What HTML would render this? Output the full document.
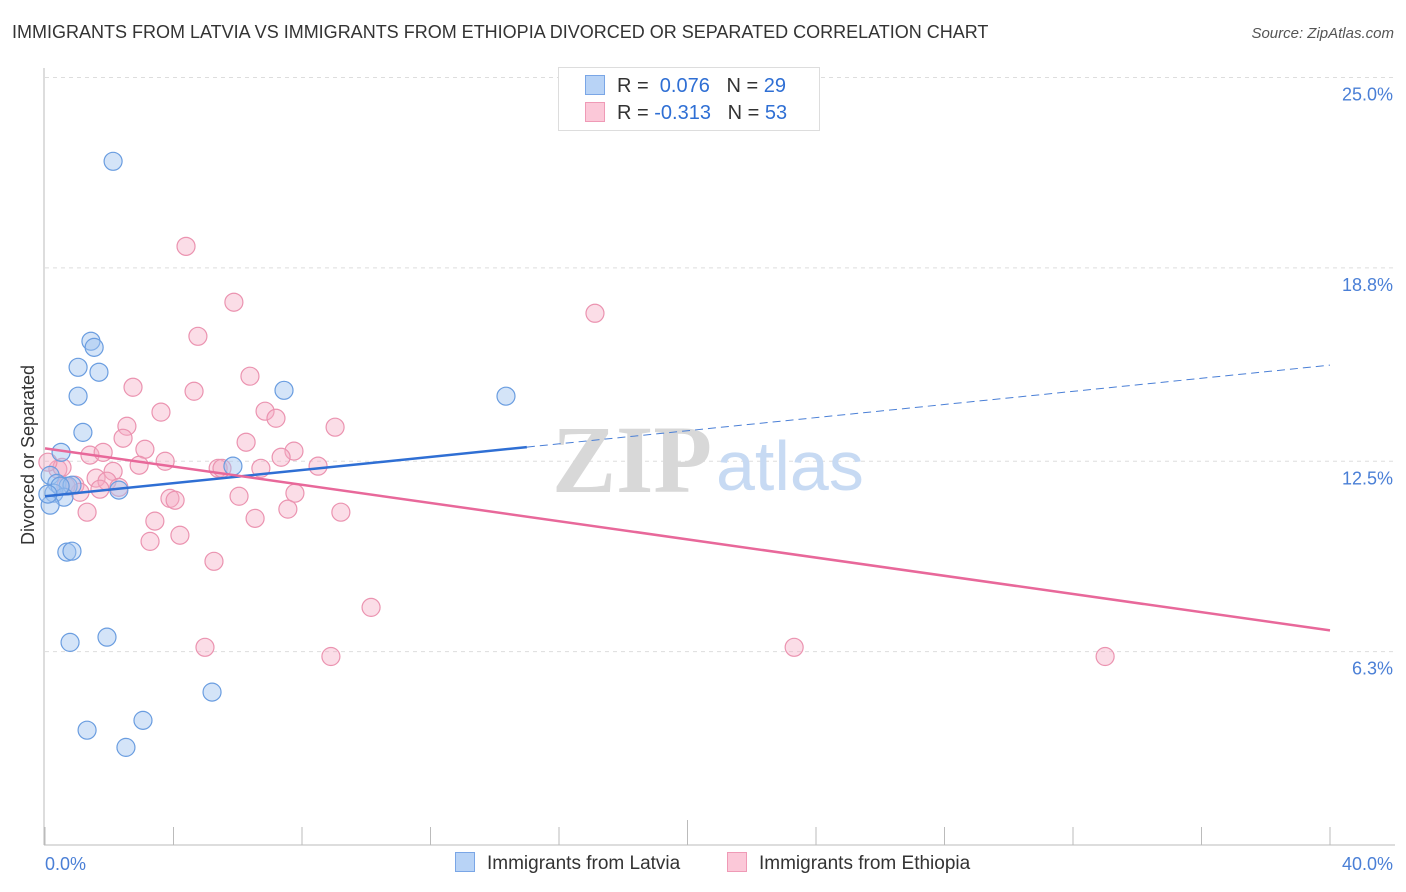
<!DOCTYPE html>
<html><head><meta charset="utf-8"><style>
body{margin:0;background:#fff;font-family:"Liberation Sans",sans-serif;}
#wrap{position:relative;width:1406px;height:892px;overflow:hidden;}
.t{position:absolute;white-space:nowrap;}
</style></head><body>
<div id="wrap">
<div class="t" style="left:12px;top:22px;font-size:18px;color:#333;">IMMIGRANTS FROM LATVIA VS IMMIGRANTS FROM ETHIOPIA DIVORCED OR SEPARATED CORRELATION CHART</div>
<div class="t" style="right:12px;top:25px;font-size:15px;color:#555;font-style:italic;">Source: ZipAtlas.com</div>
<svg id="plot" width="1406" height="892" style="position:absolute;left:0;top:0"></svg>
</div>
<script>
const yTicks=[25.0,18.8,12.5,6.3];
const yTickLabels=["25.0%","18.8%","12.5%","6.3%"];
const xTickLabels=["0.0%","40.0%"];
const latviaX=[2.12,1.43,1.53,1.03,1.68,1.03,7.44,14.35,1.18,0.50,5.85,0.16,0.37,0.72,0.84,0.28,0.59,0.16,2.30,0.68,0.84,0.78,1.93,5.20,3.05,1.31,2.52,0.47,0.09];
const latviaY=[22.27,16.41,16.21,15.56,15.40,14.62,14.81,14.62,13.44,12.79,12.34,12.04,11.78,11.69,11.72,11.46,11.33,11.07,11.56,9.54,9.57,6.60,6.77,4.98,4.06,3.74,3.18,11.69,11.43];
const ethiopiaX=[4.39,5.88,17.12,4.76,6.38,2.74,4.64,3.61,6.85,7.19,9.03,2.55,2.43,6.26,3.11,7.75,1.40,1.81,7.35,3.74,2.93,8.50,5.39,5.51,6.72,2.12,0.40,0.53,1.59,1.93,2.30,0.93,1.09,0.65,0.09,3.89,4.05,6.04,7.78,7.56,9.21,1.31,3.42,6.54,3.27,4.20,5.26,10.15,4.98,8.90,23.32,33.00,1.71];
const ethiopiaY=[19.50,17.68,17.32,16.57,15.27,14.91,14.78,14.10,14.13,13.90,13.61,13.64,13.25,13.12,12.89,12.83,12.70,12.79,12.63,12.50,12.37,12.34,12.27,12.27,12.27,12.17,12.24,12.30,11.95,11.85,11.65,11.72,11.49,11.69,12.47,11.29,11.23,11.36,11.46,10.94,10.84,10.84,10.55,10.64,9.89,10.09,9.24,7.74,6.44,6.14,6.44,6.14,11.59];
const latviaTrend=[11.36,15.63];
const latviaSolidEnd=15.0;
const ethiopiaTrend=[12.92,6.99];

const svg=document.getElementById('plot');
const NS='http://www.w3.org/2000/svg';
const X=v=>45+v*32.125;
const Y=v=>845-v*30.7;
function mk(tag,at,parent){const e=document.createElementNS(NS,tag);for(const k in at)e.setAttribute(k,at[k]);(parent||svg).appendChild(e);return e;}

yTicks.forEach((t,i)=>{
 const g=mk('line',{x1:45,x2:1395,y1:Y(t),y2:Y(t),stroke:'#ddd','stroke-dasharray':'4,4'});
 
 
 const tx=mk('text',{x:1393,y:Y(t)+23,'text-anchor':'end','font-size':18,fill:'#4a7fd6','font-family':'Liberation Sans, sans-serif'});
 tx.textContent=yTickLabels[i];
 
 
});
const ax=mk('line',{x1:44,x2:44,y1:68,y2:845,stroke:'#bbb'});


const bx=mk('line',{x1:44,x2:1395,y1:845,y2:845,stroke:'#bbb'});


for(let i=0;i<=10;i++){
 const v=i*4;
 const tk=mk('line',{x1:X(v),x2:X(v),y1:i==5?820:827,y2:845,stroke:'#bbb'});
 
 
}
[[0,'start',45],[40,'end',1393]].forEach((d,i)=>{
 const tx=mk('text',{x:d[2],y:870,'text-anchor':d[1],'font-size':18,fill:'#4a7fd6','font-family':'Liberation Sans, sans-serif'});
 tx.textContent=xTickLabels[i];
 
 
});
const yt=mk('text',{x:34,y:455,transform:'rotate(-90 34 455)','text-anchor':'middle','font-size':18,fill:'#333','font-family':'Liberation Sans, sans-serif'});
yt.textContent='Divorced or Separated';



const w1=mk('text',{x:552,y:492,'font-size':96,fill:'#d8d8d8','font-family':'Liberation Serif, serif','font-weight':'bold'});
w1.textContent='ZIP';


const w2=mk('text',{x:716,y:490,'font-size':70,fill:'#c7daf3','font-family':'Liberation Sans, sans-serif'});
w2.textContent='atlas';



ethiopiaX.forEach((x,i)=>{
 const c=mk('circle',{cx:X(x),cy:Y(ethiopiaY[i]),r:9,fill:'rgba(246,170,196,0.4)',stroke:'#eb93b0','stroke-width':1.2});
 
 
});
latviaX.forEach((x,i)=>{
 const c=mk('circle',{cx:X(x),cy:Y(latviaY[i]),r:9,fill:'rgba(160,196,240,0.45)',stroke:'#6a9de0','stroke-width':1.2});
 
 
});
const ly=v=>latviaTrend[0]+(latviaTrend[1]-latviaTrend[0])*v/40;
const l1=mk('line',{x1:X(0),y1:Y(ly(0)),x2:X(latviaSolidEnd),y2:Y(ly(latviaSolidEnd)),stroke:'#2f6fd4','stroke-width':2.5});


const l2=mk('line',{x1:X(latviaSolidEnd),y1:Y(ly(latviaSolidEnd)),x2:X(40),y2:Y(ly(40)),stroke:'#4a7fd6','stroke-width':1,'stroke-dasharray':'8,5'});


const l3=mk('line',{x1:X(0),y1:Y(ethiopiaTrend[0]),x2:X(40),y2:Y(ethiopiaTrend[1]),stroke:'#e8689a','stroke-width':2.5});


</script>
<div class="t" style="left:558px;top:67px;width:260px;height:62px;border:1px solid #ddd;background:#fff;font-size:20px;color:#333;">
 <div style="position:absolute;left:26px;top:7px;"><span style="display:inline-block;width:18px;height:18px;background:#b8d3f6;border:1px solid #7aa6e6;vertical-align:-3px;margin-right:12px;"></span>R = &nbsp;<span style="color:#2f6fd4">0.076</span> &nbsp;&nbsp;N = <span style="color:#2f6fd4">29</span></div>
 <div style="position:absolute;left:26px;top:34px;"><span style="display:inline-block;width:18px;height:18px;background:#fbc8d8;border:1px solid #ef9ab6;vertical-align:-3px;margin-right:12px;"></span>R = <span style="color:#2f6fd4">-0.313</span> &nbsp;&nbsp;N = <span style="color:#2f6fd4">53</span></div>
</div>
<div class="t" style="left:455px;top:852px;font-size:19px;color:#333;"><span style="display:inline-block;width:18px;height:18px;background:#b8d3f6;border:1px solid #7aa6e6;vertical-align:-3px;margin-right:12px;"></span>Immigrants from Latvia</div>
<div class="t" style="left:727px;top:852px;font-size:19px;color:#333;"><span style="display:inline-block;width:18px;height:18px;background:#fbc8d8;border:1px solid #ef9ab6;vertical-align:-3px;margin-right:12px;"></span>Immigrants from Ethiopia</div>
</body></html>
